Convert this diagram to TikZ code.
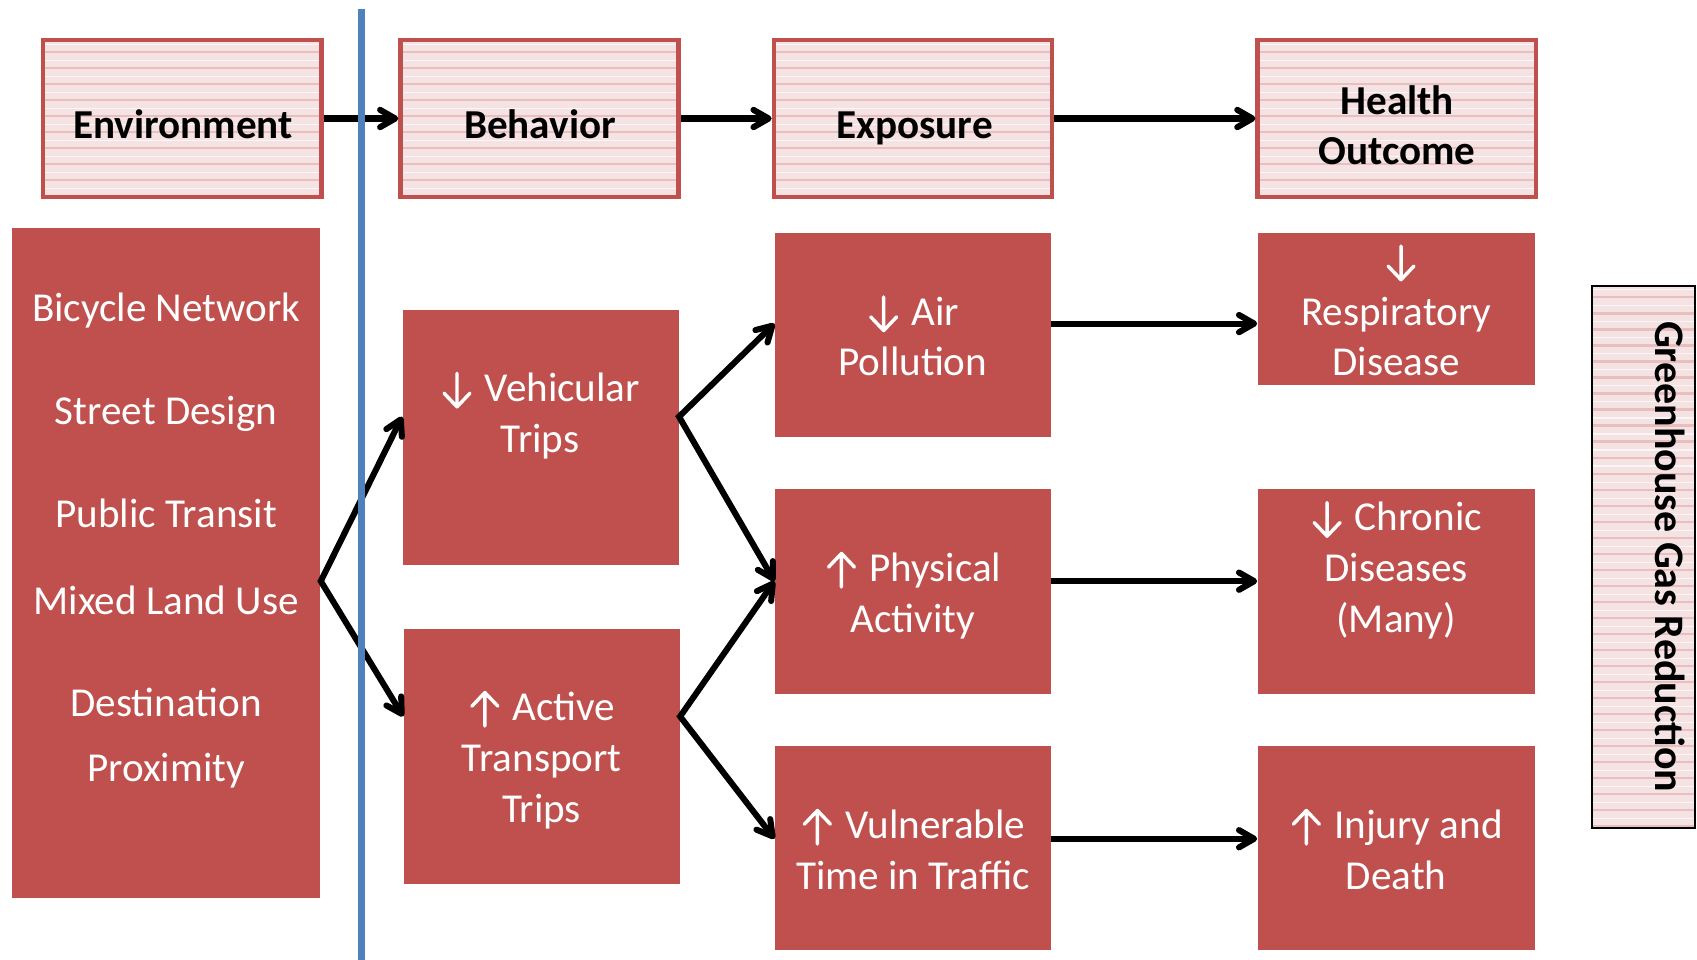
\documentclass[tikz,border=0pt]{standalone}
\usepackage{fontspec}
\setmainfont{Carlito}
\usetikzlibrary{arrows.meta,fit}
\definecolor{boxred}{RGB}{192,80,77}
\definecolor{lineblue}{RGB}{79,129,189}
\definecolor{hdrpink}{RGB}{245,226,226}
\definecolor{hdrstripe}{RGB}{232,190,190}
\newcommand{\dnarr}{\hspace{1pt}\tikz[baseline=0pt]\draw[white,line width=1.6pt,line cap=round,line join=round] (0pt,13pt) -- (0pt,-2.5pt) (-6pt,3.8pt) -- (0pt,-2.5pt) -- (6pt,3.8pt);\hspace{6pt}}
\newcommand{\uparr}{\hspace{1pt}\tikz[baseline=0pt]\draw[white,line width=1.6pt,line cap=round,line join=round] (0pt,-2.5pt) -- (0pt,13pt) (-6pt,6.7pt) -- (0pt,13pt) -- (6pt,6.7pt);\hspace{6pt}}
\tikzset{
  x=0.5pt, y=-0.5pt,
  stripes/.style={path picture={
    \foreach \k in {1,...,40}{
      \draw[hdrstripe, line width=1pt]
        ([yshift=-\k*7.4pt+2pt]path picture bounding box.north west) --
        ([yshift=-\k*7.4pt+2pt]path picture bounding box.north east);
      \draw[white, line width=0.5pt, opacity=0.7]
        ([yshift=-\k*7.4pt+5.5pt]path picture bounding box.north west) --
        ([yshift=-\k*7.4pt+5.5pt]path picture bounding box.north east);
    }}},
  hdrbox/.style={fill=hdrpink, draw=boxred, line width=2pt, inner sep=0pt, stripes},
  ghgbox/.style={fill=hdrpink, draw=black, line width=1pt, inner sep=0pt, stripes},
  redbox/.style={fill=boxred, draw=none, inner sep=0pt},
  boxtext/.style={text=white, align=center, inner sep=0pt,
    font=\fontsize{19pt}{23.5pt}\selectfont},
  hdrtext/.style={text=black, align=center, inner sep=0pt,
    font=\fontsize{19pt}{23.5pt}\selectfont\bfseries},
  conn/.style={line width=2.8pt, line join=miter,
    -{Straight Barb[length=7pt,width=8pt,round]}},
  conntwo/.style={line width=2.8pt, line join=miter,
    {Straight Barb[length=7pt,width=8pt,round]}-{Straight Barb[length=7pt,width=8pt,round]}},
  divider/.style={draw=lineblue, line width=2.8pt}
}
\begin{document}
\begin{tikzpicture}
\fill[white] (0,0) rectangle (1568,887);
\useasboundingbox (0,0) rectangle (1568,887);

% header boxes
\node[hdrbox, fit={(40,37) (297,182)}] (envh) {};
\node[hdrbox, fit={(370,37) (627,182)}] (behh) {};
\node[hdrbox, fit={(715,37) (972,182)}] (exph) {};
\node[hdrbox, fit={(1162,37) (1419,182)}] (hlth) {};
\node[hdrtext] at (169,119) (envht) {\strut Environment};
\node[hdrtext] at (499,119) (behht) {\strut Behavior};
\node[hdrtext] at (845,119) (expht) {\strut Exposure};
\node[hdrtext] at (1291,119.5) (hltht) {\strut Health\\\strut Outcome};

% red boxes
\node[redbox, fit={(11,211) (296,830)}] (envbox) {};
\node[redbox, fit={(372,286) (627,522)}] (vehbox) {};
\node[redbox, fit={(373,581) (628,817)}] (actbox) {};
\node[redbox, fit={(716,215) (971,404)}] (airbox) {};
\node[redbox, fit={(716,452) (971,641)}] (phybox) {};
\node[redbox, fit={(716,689) (971,878)}] (vulbox) {};
\node[redbox, fit={(1162,215) (1418,356)}] (resbox) {};
\node[redbox, fit={(1162,452) (1418,641)}] (chrbox) {};
\node[redbox, fit={(1162,689) (1418,878)}] (injbox) {};
\node[ghgbox, fit={(1471,264) (1566,765)}] (ghgbox) {};

% texts
\node[boxtext] at (153.5,288) (e1) {\strut Bicycle Network};
\node[boxtext] at (153.5,383) (e2) {\strut Street Design};
\node[boxtext] at (153.5,478) (e3) {\strut Public Transit};
\node[boxtext] at (153.5,558) (e4) {\strut Mixed Land Use};
\node[boxtext] at (153.5,653) (e5) {\strut Destination};
\node[boxtext] at (153.5,713) (e6) {\strut Proximity};
\node[boxtext] at (499,385) (veht) {\strut\dnarr Vehicular\\\strut Trips};
\node[boxtext] at (500.5,703.5) (actt) {\strut\uparr Active\\\strut Transport\\\strut Trips};
\node[boxtext] at (843.5,314.5) (airt) {\strut\dnarr Air\\\strut Pollution};
\node[boxtext] at (843.5,551.5) (phyt) {\strut\uparr Physical\\\strut Activity};
\node[boxtext] at (843.5,789) (vult) {\strut\uparr Vulnerable\\\strut Time in Traffic};
\node[boxtext] at (1290,291) (rest) {\strut\hspace{3.5pt}\dnarr\\\strut Respiratory\\\strut Disease};
\node[boxtext] at (1290,528) (chrt) {\strut\dnarr Chronic\\\strut Diseases\\\strut (Many)};
\node[boxtext] at (1290,789) (injt) {\strut\uparr Injury and\\\strut Death};
\node[hdrtext, rotate=-90, font=\fontsize{19.4pt}{23.5pt}\selectfont\bfseries] at (1539,514.5) (ghgt) {\strut Greenhouse Gas Reduction};

% connection points
\coordinate (envout) at ([yshift=-8.25pt]envbox.east);
\coordinate (vehin) at ([yshift=9.5pt]vehbox.west);
\coordinate (vehout) at ([yshift=9.5pt]vehbox.east);
\coordinate (actin) at ([yshift=18.5pt]actbox.west);
\coordinate (actout) at ([yshift=18.5pt]actbox.east);
\coordinate (airin) at ([yshift=5.25pt]airbox.west);
\coordinate (airout) at ([yshift=5.25pt]airbox.east);
\coordinate (phyin) at ([yshift=4.75pt]phybox.west);
\coordinate (phyout) at ([yshift=4.75pt]phybox.east);
\coordinate (vulin) at ([yshift=4.25pt]vulbox.west);
\coordinate (vulout) at ([yshift=4.25pt]vulbox.east);
\coordinate (resin) at (airout -| resbox.west);
\coordinate (chrin) at (phyout -| chrbox.west);
\coordinate (injin) at (vulout -| injbox.west);

% connectors
\draw[conn] (envh.east) -- (behh.west);
\draw[conn] (behh.east) -- (exph.west);
\draw[conn] (exph.east) -- (hlth.west);
\draw[conntwo] (vehin) -- (envout) -- (actin);
\draw[conntwo] (airin) -- (vehout) -- (phyin);
\draw[conntwo] (phyin) -- (actout) -- (vulin);
\draw[conn] (airout) -- (resin);
\draw[conn] (phyout) -- (chrin);
\draw[conn] (vulout) -- (injin);

% divider
\coordinate (divtop) at (334,8);
\coordinate (divbot) at (334,887);
\draw[divider] (divtop) -- (divbot);
\end{tikzpicture}
\end{document}
